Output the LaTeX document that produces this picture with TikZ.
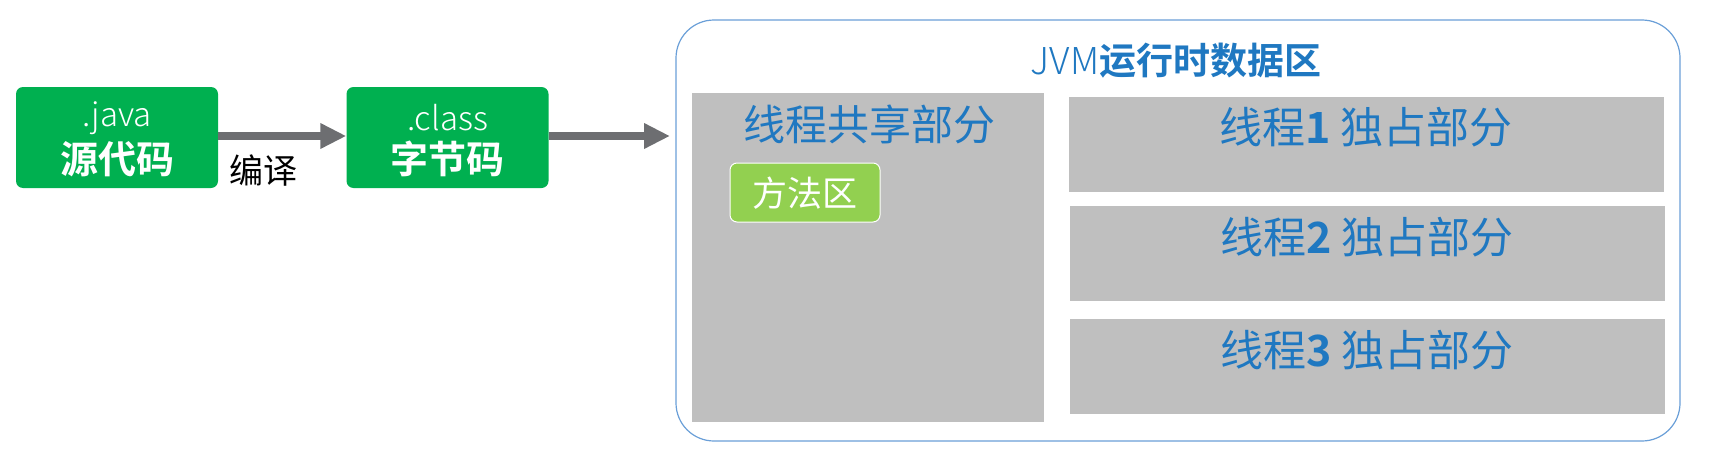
\documentclass[tikz,border=0pt]{standalone}
\usepackage{fontspec}
\setmainfont{Noto Sans CJK SC}
\newfontfamily\cjkb{Noto Sans CJK SC Bold}
\newfontfamily\cjkl{Noto Sans CJK SC Light}
\usetikzlibrary{arrows.meta}
\definecolor{gbox}{HTML}{00B050}
\definecolor{lgreen}{HTML}{92D050}
\definecolor{grayfill}{HTML}{BFBFBF}
\definecolor{bluetxt}{HTML}{1F78C1}
\definecolor{bluebd}{HTML}{6A9FD8}
\definecolor{arrowgray}{HTML}{6D6E71}
\tikzset{
  greenbox/.style={fill=gbox, rounded corners=7pt, minimum width=202pt, minimum height=101pt, inner sep=0pt},
  graybox/.style={fill=grayfill, inner sep=0pt},
  bigarrow/.style={draw=arrowgray, line width=8pt, -{Triangle[width=24pt,length=26pt]}},
  wtext/.style={text=white, inner sep=0pt},
  btext/.style={text=bluetxt, inner sep=0pt},
}
\begin{document}
\begin{tikzpicture}[x=1pt,y=-1pt]
\useasboundingbox (0,0) rectangle (1712,460);
% left boxes
\node[greenbox] (src) at (117,137.5) {};
\node[wtext, font=\cjkl\fontsize{33}{33}\selectfont] (srcA) at (117,118) {.java};
\node[wtext, font=\cjkb\fontsize{38}{38}\selectfont] (srcB) at (117,159) {源代码};
\node[greenbox] (cls) at (447.5,137.5) {};
\node[wtext, font=\cjkl\fontsize{33}{33}\selectfont] (clsA) at (447.5,118) {.class};
\node[wtext, font=\cjkb\fontsize{38}{38}\selectfont] (clsB) at (447.5,159) {字节码};
% outer JVM area
\node[draw=bluebd, line width=1.2pt, fill=white, rounded corners=38pt, minimum width=1004pt, minimum height=421pt, inner sep=0pt] (jvm) at (1178,230.5) {};
\coordinate (jvmin) at (670,136);
\draw[bigarrow] (src.east |- jvmin) -- (cls.west |- jvmin);
\draw[bigarrow] (cls.east |- jvmin) -- (jvmin);
\node[inner sep=0pt, font=\fontsize{34}{34}\selectfont] (bianyi) at (263,171) {编译};
\node[btext] (title) at (1176,61) {\cjkl\fontsize{37}{37}\selectfont JVM\cjkb\fontsize{37}{37}\selectfont 运行时数据区};
% shared part
\node[graybox, minimum width=352pt, minimum height=329pt] (shared) at (868,257.5) {};
\node[btext, font=\fontsize{42}{42}\selectfont] (sharedT) at (869,124) {线程共享部分};
\node[fill=lgreen, draw=white, line width=1pt, rounded corners=7pt, minimum width=150pt, minimum height=59pt, inner sep=0pt] (method) at (805,192.5) {};
\node[wtext, font=\fontsize{35}{35}\selectfont] (methodT) at (805,193) {方法区};
% thread parts
\node[graybox, minimum width=595pt, minimum height=95pt] (t1) at (1366,144.5) {};
\node[graybox, minimum width=595pt, minimum height=95pt] (t2) at (1367,253.5) {};
\node[graybox, minimum width=595pt, minimum height=95pt] (t3) at (1367,366.5) {};
\node[btext, font=\fontsize{43}{43}\selectfont] (t1T) at (1366,127) {线程{\cjkb 1} 独占部分};
\node[btext, font=\fontsize{43}{43}\selectfont] (t2T) at (1367,237) {线程{\cjkb 2} 独占部分};
\node[btext, font=\fontsize{43}{43}\selectfont] (t3T) at (1367,350) {线程{\cjkb 3} 独占部分};
\end{tikzpicture}
\end{document}
